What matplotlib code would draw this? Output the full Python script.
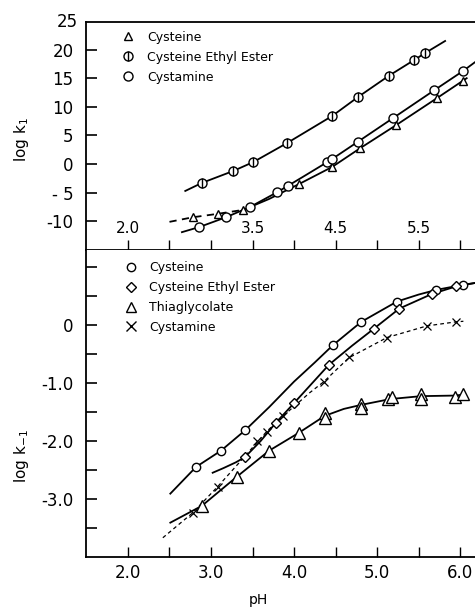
import matplotlib.pyplot as plt
from matplotlib.lines import Line2D

plt.rcParams['font.family'] = ['DejaVu Sans']

# ---- top panel (log k1) ----
cys_top_ph = [2.78, 3.08, 3.39, 4.06, 4.46, 4.80, 5.23, 5.72, 6.04]
cys_top_val = [-9.3, -8.7, -8.0, -3.5, -0.5, 2.8, 6.8, 11.5, 14.5]
ester_top_ph = [2.89, 3.27, 3.51, 3.92, 4.46, 4.77, 5.14, 5.45, 5.58]
ester_top_val = [-3.3, -1.2, 0.35, 3.7, 8.4, 11.7, 15.4, 18.2, 19.4]
cysta_top_ph = [2.86, 3.18, 3.47, 3.80, 3.93, 4.40, 4.46, 4.77, 5.19, 5.69, 6.04]
cysta_top_val = [-11.0, -9.3, -7.5, -4.9, -3.8, 0.35, 0.9, 3.9, 8.0, 12.9, 16.3]

# drawn curves
cys_top_dash_ph = [2.50, 2.78, 3.08, 3.39]
cys_top_dash_val = [-10.1, -9.3, -8.7, -8.0]
cys_top_fit_ph = [3.39, 3.70, 4.06, 4.46, 4.80, 5.23, 5.72, 6.08]
cys_top_fit_val = [-8.0, -6.1, -3.5, -0.5, 2.8, 6.8, 11.5, 15.0]
ester_top_fit_ph = [2.69, 2.89, 3.27, 3.51, 3.92, 4.46, 4.77, 5.14, 5.45, 5.58, 5.82]
ester_top_fit_val = [-4.7, -3.3, -1.2, 0.35, 3.7, 8.4, 11.7, 15.4, 18.2, 19.4, 21.5]
cysta_top_fit_ph = [2.65, 2.86, 3.18, 3.47, 3.80, 4.10, 4.43, 4.77, 5.19, 5.69, 6.04, 6.18]
cysta_top_fit_val = [-11.9, -11.0, -9.3, -7.5, -4.9, -2.3, 0.6, 3.9, 8.0, 12.9, 16.3, 17.8]

# ---- bottom panel (log k-1) ----
cys_ph = [2.82, 3.12, 3.41, 4.47, 4.81, 5.24, 5.71, 6.04]
cys_val = [-2.45, -2.17, -1.82, -0.35, 0.05, 0.40, 0.60, 0.69]
ester_ph = [3.41, 3.78, 4.00, 4.42, 4.96, 5.27, 5.66, 5.95]
ester_val = [-2.28, -1.69, -1.35, -0.69, -0.07, 0.28, 0.53, 0.66]
thia_ph = [2.89, 3.31, 3.70, 4.06, 4.37, 4.37, 4.81, 4.81, 5.13, 5.18, 5.53, 5.53, 5.94, 6.04]
thia_val = [-3.12, -2.62, -2.17, -1.86, -1.52, -1.60, -1.36, -1.43, -1.28, -1.24, -1.20, -1.28, -1.24, -1.19]
cysta_ph = [2.78, 3.08, 3.55, 3.67, 3.87, 4.36, 4.66, 5.12, 5.60, 5.95]
cysta_val = [-3.24, -2.79, -2.00, -1.84, -1.57, -0.98, -0.55, -0.22, -0.02, 0.05]

cys_fit_ph = [2.51, 2.82, 3.12, 3.41, 3.70, 4.00, 4.25, 4.47, 4.81, 5.24, 5.50, 5.71, 6.04, 6.18]
cys_fit_val = [-2.91, -2.45, -2.17, -1.82, -1.42, -0.98, -0.65, -0.35, 0.05, 0.40, 0.52, 0.60, 0.69, 0.72]
ester_fit_ph = [3.02, 3.15, 3.30, 3.41, 3.60, 3.78, 4.00, 4.42, 4.70, 4.96, 5.27, 5.66, 5.95, 6.18]
ester_fit_val = [-2.55, -2.47, -2.37, -2.28, -2.00, -1.69, -1.35, -0.69, -0.36, -0.07, 0.28, 0.53, 0.66, 0.72]
thia_fit_ph = [2.51, 2.89, 3.31, 3.70, 4.06, 4.37, 4.60, 4.81, 5.16, 5.53, 5.94, 6.06]
thia_fit_val = [-3.41, -3.12, -2.62, -2.17, -1.86, -1.57, -1.45, -1.38, -1.28, -1.23, -1.22, -1.20]
cysta_fit_ph = [2.42, 2.78, 3.08, 3.35, 3.67, 3.87, 4.19, 4.36, 4.66, 5.12, 5.60, 5.95, 6.04]
cysta_fit_val = [-3.67, -3.24, -2.79, -2.36, -1.84, -1.57, -1.17, -0.98, -0.57, -0.22, -0.02, 0.05, 0.06]

top_yticks = [-10, -5, 0, 5, 10, 15, 20]
top_ylabels = ['-10', '- 5', '0', '5', '10', '15', '20']
top_xticks = [2.0, 2.5, 3.0, 3.5, 4.0, 4.5, 5.0, 5.5, 6.0]
top_xlabels = ['2.0', '', '', '3.5', '', '4.5', '', '5.5', '']
bot_yticks = [-3.5, -3.0, -2.5, -2.0, -1.5, -1.0, -0.5, 0.0, 0.5, 1.0]
bot_ylabels = ['', '-3.0', '', '-2.0', '', '-1.0', '', '0', '', '']
bot_xticks = [2.0, 2.5, 3.0, 3.5, 4.0, 4.5, 5.0, 5.5, 6.0]
bot_xlabels = ['2.0', '', '3.0', '', '4.0', '', '5.0', '', '6.0']

fig = plt.figure(figsize=(4.75, 6.14), dpi=100)
ax1 = fig.add_axes([0.181, 0.593, 0.819, 0.371])
ax2 = fig.add_axes([0.181, 0.093, 0.819, 0.500])

lw = 1.3
open_kw = dict(linestyle='none', markerfacecolor='white', markeredgecolor='black',
               markeredgewidth=1.0, zorder=3)

# top panel
ax1.plot(cys_top_dash_ph, cys_top_dash_val, color='black', lw=lw, dashes=(4, 3))
ax1.plot(cys_top_fit_ph, cys_top_fit_val, color='black', lw=lw)
ax1.plot(ester_top_fit_ph, ester_top_fit_val, color='black', lw=lw)
ax1.plot(cysta_top_fit_ph, cysta_top_fit_val, color='black', lw=lw)
ax1.plot(cys_top_ph, cys_top_val, marker='^', markersize=6, **open_kw)
ax1.plot(ester_top_ph, ester_top_val, marker='o', markersize=6.5, **open_kw)
ax1.plot(ester_top_ph, ester_top_val, linestyle='none', marker='|', markersize=6.5,
         markeredgecolor='black', markeredgewidth=1.0, zorder=4)
ax1.plot(cysta_top_ph, cysta_top_val, marker='o', markersize=6.5, **open_kw)

ax1.set_xlim(1.494, 6.18)
ax1.set_ylim(-15.0, 24.8)
ax1.set_yticks(top_yticks, top_ylabels)
ax1.set_xticks(top_xticks, top_xlabels)
ax1.tick_params(axis='y', direction='in', length=8, width=1.2, pad=9, labelsize=12)
ax1.tick_params(axis='x', direction='in', length=7, width=1.0, pad=-21, labelsize=11)
ax1.text(1.40, 24.8, '25', ha='right', va='center', fontsize=12)
ax1.spines['right'].set_visible(False)
for s in ['left', 'top', 'bottom']:
    ax1.spines[s].set_linewidth(1.3)

h_top = [
    Line2D([], [], marker='^', markersize=6, **open_kw),
    (Line2D([], [], marker='o', markersize=6.5, **open_kw),
     Line2D([], [], marker='|', markersize=6.5, linestyle='none', markeredgecolor='black')),
    Line2D([], [], marker='o', markersize=6.5, **open_kw),
]
ax1.legend(h_top, ['Cysteine', 'Cysteine Ethyl Ester', 'Cystamine'], loc='upper left',
           bbox_to_anchor=(0.07, 1.0), frameon=False, fontsize=9, handlelength=1.0,
           handletextpad=1.0, labelspacing=0.55, borderaxespad=0.3)

# bottom panel
ax2.plot(cys_fit_ph, cys_fit_val, color='black', lw=lw)
ax2.plot(ester_fit_ph, ester_fit_val, color='black', lw=lw)
ax2.plot(thia_fit_ph, thia_fit_val, color='black', lw=lw)
ax2.plot(cysta_fit_ph, cysta_fit_val, color='black', lw=0.9, dashes=(3, 2.5))
ax2.plot(cys_ph, cys_val, marker='o', markersize=6, **open_kw)
ax2.plot(ester_ph, ester_val, marker='D', markersize=5.5, **open_kw)
ax2.plot(thia_ph, thia_val, marker='^', markersize=8, **open_kw)
ax2.plot(cysta_ph, cysta_val, linestyle='none', marker='x', markersize=6,
         markeredgecolor='black', markeredgewidth=0.9, zorder=3)

ax2.set_xlim(1.494, 6.18)
ax2.set_ylim(-4.0, 1.29)
ax2.set_yticks(bot_yticks, bot_ylabels)
ax2.set_xticks(bot_xticks, bot_xlabels)
ax2.tick_params(axis='y', direction='in', length=8, width=1.2, pad=9, labelsize=12)
ax2.tick_params(axis='x', direction='in', length=7, width=1.0, pad=5, labelsize=12)
ax2.spines['right'].set_visible(False)
ax2.spines['top'].set_visible(False)
for s in ['left', 'bottom']:
    ax2.spines[s].set_linewidth(1.3)

h_bot = [
    Line2D([], [], marker='o', markersize=6, **open_kw),
    Line2D([], [], marker='D', markersize=5.5, **open_kw),
    Line2D([], [], marker='^', markersize=7, **open_kw),
    Line2D([], [], marker='x', markersize=7, linestyle='none', markeredgecolor='black'),
]
ax2.legend(h_bot, ['Cysteine', 'Cysteine Ethyl Ester', 'Thiaglycolate', 'Cystamine'],
           loc='upper left', bbox_to_anchor=(0.07, 1.0), frameon=False, fontsize=9,
           handlelength=1.0, handletextpad=1.0, labelspacing=0.55, borderaxespad=0.5)

fig.text(0.045, 1 - 140 / 614, 'log k$_1$', rotation=90, ha='center', va='center', fontsize=11)
fig.text(0.045, 1 - 456 / 614, 'log k$_{-1}$', rotation=90, ha='center', va='center', fontsize=11)
fig.text(258 / 475, 0.012, 'pH', ha='center', va='bottom', fontsize=10)

fig.savefig('out.png', dpi=100)
